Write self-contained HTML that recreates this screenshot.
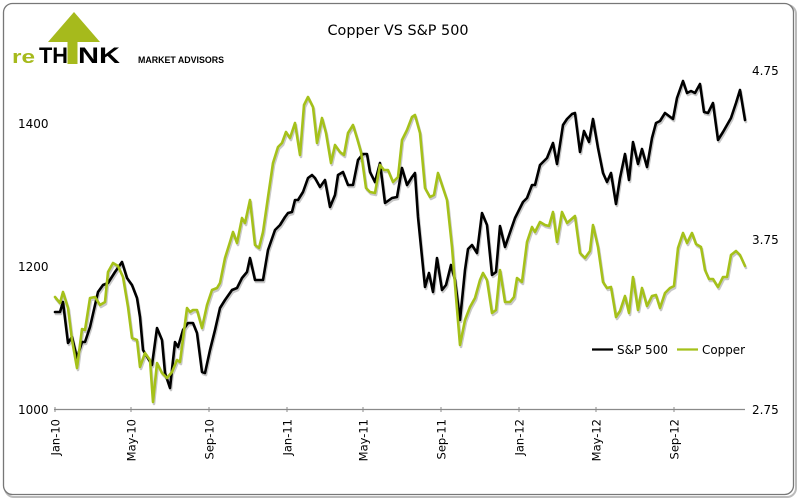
<!DOCTYPE html>
<html><head><meta charset="utf-8"><style>
html,body{margin:0;padding:0;background:#fff;}
svg{display:block;}
text{font-family:"DejaVu Sans","Liberation Sans",sans-serif;fill:#000;}
text.lg{font-family:"Liberation Sans",sans-serif;font-weight:bold;}
text.grn{fill:#a6ba1c;}
</style></head><body>
<svg width="800" height="501" viewBox="0 0 800 501" xmlns="http://www.w3.org/2000/svg">
<rect x="0" y="0" width="800" height="501" fill="#fff"/>
<!-- frame shadow -->
<rect x="5" y="5" width="791" height="492" rx="9" fill="none" stroke="#bbb" stroke-width="2"/>
<rect x="3.5" y="3.5" width="790" height="491" rx="9" fill="#fff" stroke="#777" stroke-width="1.3"/>

<!-- logo -->
<polygon points="74,12 100,42 48,42" fill="#a6ba1c"/>
<rect x="67.5" y="40" width="10" height="24" fill="#a6ba1c"/>
<text class="lg grn" x="12" y="63" font-size="18" textLength="23" lengthAdjust="spacingAndGlyphs">re</text>
<text class="lg" x="39" y="63" font-size="22" textLength="29" lengthAdjust="spacingAndGlyphs">TH</text>
<text class="lg" x="78" y="63" font-size="22" textLength="42" lengthAdjust="spacingAndGlyphs">NK</text>
<text class="lg" x="138" y="63" font-size="9" textLength="86" lengthAdjust="spacingAndGlyphs">MARKET ADVISORS</text>

<!-- title -->
<text x="398" y="35" font-size="14.5" text-anchor="middle" textLength="141" lengthAdjust="spacingAndGlyphs">Copper VS S&amp;P 500</text>

<!-- left axis labels -->
<text x="18" y="128" font-size="12">1400</text>
<text x="18" y="271" font-size="12">1200</text>
<text x="18" y="414" font-size="12">1000</text>
<!-- right axis labels -->
<text x="752" y="75" font-size="12">4.75</text>
<text x="752" y="244" font-size="12">3.75</text>
<text x="752" y="414" font-size="12">2.75</text>

<!-- x axis -->
<line x1="54" y1="409.5" x2="745" y2="409.5" stroke="#8a8a8a" stroke-width="1.2"/>
<g stroke="#8a8a8a" stroke-width="1">
<line x1="55" y1="407" x2="55" y2="412"/>
<line x1="131" y1="407" x2="131" y2="412"/>
<line x1="209" y1="407" x2="209" y2="412"/>
<line x1="287" y1="407" x2="287" y2="412"/>
<line x1="363" y1="407" x2="363" y2="412"/>
<line x1="441" y1="407" x2="441" y2="412"/>
<line x1="519" y1="407" x2="519" y2="412"/>
<line x1="596" y1="407" x2="596" y2="412"/>
<line x1="674" y1="407" x2="674" y2="412"/>
</g>
<g font-size="11.5" text-anchor="end">
<text transform="translate(59.5,419) rotate(-90)">Jan-10</text>
<text transform="translate(135.5,419) rotate(-90)">May-10</text>
<text transform="translate(213.5,419) rotate(-90)">Sep-10</text>
<text transform="translate(291.5,419) rotate(-90)">Jan-11</text>
<text transform="translate(367.5,419) rotate(-90)">May-11</text>
<text transform="translate(445.5,419) rotate(-90)">Sep-11</text>
<text transform="translate(523.5,419) rotate(-90)">Jan-12</text>
<text transform="translate(600.5,419) rotate(-90)">May-12</text>
<text transform="translate(678.5,419) rotate(-90)">Sep-12</text>
</g>

<!-- series -->
<g fill="none" stroke-linejoin="round" stroke-linecap="round" stroke-width="2.6">
<g transform="translate(1,2)" stroke="#c8c8c8">
<polyline points="55,312 60,312 63,302 68,343 72,337 77,358 82,342 85,342 90,327 98,292 103,285 108,283 115,272 122,262 127,278 132,285 137,298 140,317 143,350 152,365 157,328 162,340 165,373 170,388 175,342 178,347 183,330 188,323 193,323 197,333 202,372 205,373 210,350 215,330 220,308 225,300 232,290 237,288 242,278 247,272 250,258 255,280 263,280 268,250 275,230 280,225 285,217 288,213 292,212 295,200 298,200 303,192 308,178 312,175 315,178 320,187 325,180 330,207 335,195 338,175 343,172 348,185 353,185 358,160 363,154 367,154 370,172 375,182 380,163 385,203 392,198 397,197 402,168 407,185 412,177 415,173 418,217 422,257 425,287 429,273 433,292 437,258 442,290 446,285 451,265 455,280 460,320 465,270 468,249 472,245 477,253 482,213 487,225 492,275 496,272 500,226 505,247 515,218 523,202 527,198 532,185 535,185 540,165 547,158 553,143 557,164 563,125 567,119 572,114 575,113 580,152 584,131 589,142 593,119 598,148 603,173 607,182 611,173 616,204 620,178 625,154 629,180 633,142 638,164 642,149 647,167 652,138 656,123 660,121 665,113 669,116 673,119 677,98 683,81 687,93 691,91 695,93 700,84 704,112 708,113 713,103 718,140 723,132 727,125 731,118 736,103 740,90 745,120"/>
<polyline points="55,297 60,303 63,292 68,308 72,340 77,368 82,329 85,330 90,298 95,297 100,305 105,302 108,272 113,263 118,266 123,277 128,307 132,338 137,340 140,367 145,353 150,360 153,402 157,363 162,373 167,378 172,372 177,360 180,362 187,308 190,312 193,310 197,310 202,328 207,305 212,290 217,288 220,283 225,258 230,242 233,232 237,243 242,218 245,223 250,200 255,245 259,248 263,232 268,197 273,163 278,147 282,143 286,132 290,138 295,123 300,155 304,105 308,97 313,107 317,143 322,118 326,133 331,163 335,145 340,152 344,155 348,133 353,125 357,138 361,152 366,188 370,192 375,193 380,165 384,170 388,170 393,182 398,177 402,140 407,130 412,117 415,115 420,133 425,188 430,197 434,195 438,173 447,200 452,247 456,297 460,345 465,320 470,307 475,298 480,280 483,273 487,280 492,313 496,310 500,270 505,302 510,302 514,297 517,278 522,282 527,242 532,227 535,232 540,222 545,225 549,226 553,212 557,242 562,212 567,223 575,216 580,253 585,258 590,251 593,225 598,247 603,282 607,288 611,287 616,317 620,311 625,296 629,313 633,277 638,310 642,288 647,306 652,296 656,295 660,308 665,293 670,288 674,286 678,248 683,233 687,243 692,233 696,244 701,247 705,270 709,279 713,279 718,287 723,277 727,277 731,255 736,251 740,255 745,266"/>
</g>
<polyline stroke="#000" points="55,312 60,312 63,302 68,343 72,337 77,358 82,342 85,342 90,327 98,292 103,285 108,283 115,272 122,262 127,278 132,285 137,298 140,317 143,350 152,365 157,328 162,340 165,373 170,388 175,342 178,347 183,330 188,323 193,323 197,333 202,372 205,373 210,350 215,330 220,308 225,300 232,290 237,288 242,278 247,272 250,258 255,280 263,280 268,250 275,230 280,225 285,217 288,213 292,212 295,200 298,200 303,192 308,178 312,175 315,178 320,187 325,180 330,207 335,195 338,175 343,172 348,185 353,185 358,160 363,154 367,154 370,172 375,182 380,163 385,203 392,198 397,197 402,168 407,185 412,177 415,173 418,217 422,257 425,287 429,273 433,292 437,258 442,290 446,285 451,265 455,280 460,320 465,270 468,249 472,245 477,253 482,213 487,225 492,275 496,272 500,226 505,247 515,218 523,202 527,198 532,185 535,185 540,165 547,158 553,143 557,164 563,125 567,119 572,114 575,113 580,152 584,131 589,142 593,119 598,148 603,173 607,182 611,173 616,204 620,178 625,154 629,180 633,142 638,164 642,149 647,167 652,138 656,123 660,121 665,113 669,116 673,119 677,98 683,81 687,93 691,91 695,93 700,84 704,112 708,113 713,103 718,140 723,132 727,125 731,118 736,103 740,90 745,120"/>
<polyline stroke="#a5c11a" points="55,297 60,303 63,292 68,308 72,340 77,368 82,329 85,330 90,298 95,297 100,305 105,302 108,272 113,263 118,266 123,277 128,307 132,338 137,340 140,367 145,353 150,360 153,402 157,363 162,373 167,378 172,372 177,360 180,362 187,308 190,312 193,310 197,310 202,328 207,305 212,290 217,288 220,283 225,258 230,242 233,232 237,243 242,218 245,223 250,200 255,245 259,248 263,232 268,197 273,163 278,147 282,143 286,132 290,138 295,123 300,155 304,105 308,97 313,107 317,143 322,118 326,133 331,163 335,145 340,152 344,155 348,133 353,125 357,138 361,152 366,188 370,192 375,193 380,165 384,170 388,170 393,182 398,177 402,140 407,130 412,117 415,115 420,133 425,188 430,197 434,195 438,173 447,200 452,247 456,297 460,345 465,320 470,307 475,298 480,280 483,273 487,280 492,313 496,310 500,270 505,302 510,302 514,297 517,278 522,282 527,242 532,227 535,232 540,222 545,225 549,226 553,212 557,242 562,212 567,223 575,216 580,253 585,258 590,251 593,225 598,247 603,282 607,288 611,287 616,317 620,311 625,296 629,313 633,277 638,310 642,288 647,306 652,296 656,295 660,308 665,293 670,288 674,286 678,248 683,233 687,243 692,233 696,244 701,247 705,270 709,279 713,279 718,287 723,277 727,277 731,255 736,251 740,255 745,266"/>
</g>

<!-- legend -->
<line x1="592" y1="349.5" x2="613" y2="349.5" stroke="#000" stroke-width="2.2"/>
<text x="617" y="354" font-size="12.5" textLength="51" lengthAdjust="spacingAndGlyphs">S&amp;P 500</text>
<line x1="677" y1="349.5" x2="698" y2="349.5" stroke="#a5c11a" stroke-width="2.2"/>
<text x="702" y="354" font-size="12.5" textLength="43" lengthAdjust="spacingAndGlyphs">Copper</text>
</svg>
</body></html>
